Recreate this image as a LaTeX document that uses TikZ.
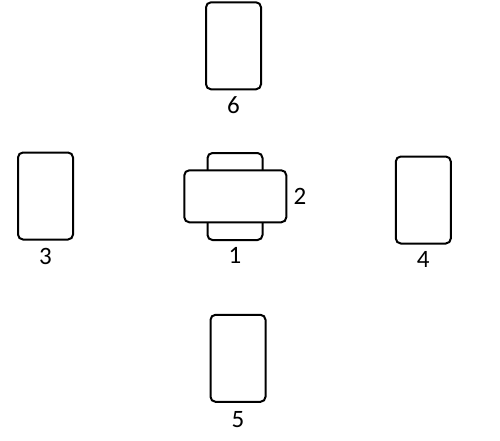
\documentclass[tikz,border=0pt]{standalone}
\usepackage{fontspec}
\setmainfont{Carlito}
\usepackage{tikz}
\usetikzlibrary{positioning}
\tikzset{card/.style={draw,rounded corners=5pt,line width=2pt,fill=white,inner sep=0pt,minimum width=55pt,minimum height=87pt}}
\tikzset{wide card/.style={card,minimum width=102pt,minimum height=52pt}}
\tikzset{num/.style={font=\fontsize{25}{25}\selectfont,inner sep=0pt}}

\begin{document}
\begin{tikzpicture}[x=1pt,y=-1pt]
            \useasboundingbox (0,0) rectangle (500,441);
            \node[card] (c1) at (235,196.5) {};
            \node[wide card] (c2) at (235.3,196.3) {};
            \node[card] (c3) at (45.5,196) {};
            \node[card] (c4) at (423.3,200) {};
            \node[card] (c5) at (238,358.3) {};
            \node[card] (c6) at (233.5,45.8) {};
            \node[num] (n1) [below=6pt of c1] {1};
            \node[num] (n2) [right=6pt of c2] {2};
            \node[num] (n3) [below=8pt of c3] {3};
            \node[num] (n4) [below=7pt of c4] {4};
            \node[num] (n5) [below=8pt of c5] {5};
            \node[num] (n6) [below=6pt of c6] {6};
        \end{tikzpicture}
\end{document}
